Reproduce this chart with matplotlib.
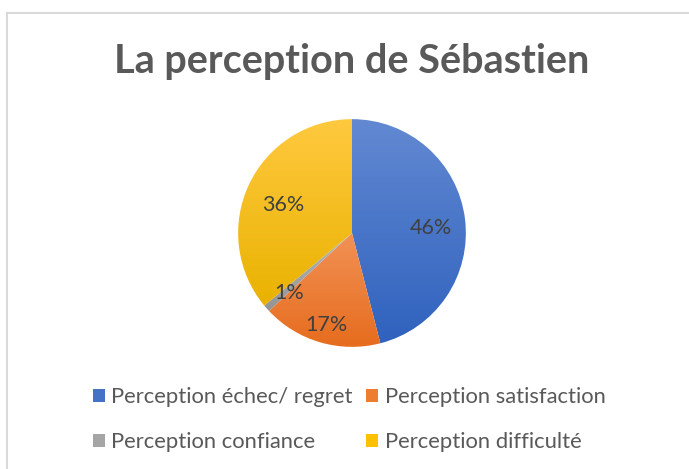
import numpy as np
import matplotlib
matplotlib.use("Agg")
import matplotlib.pyplot as plt
from matplotlib.patches import Patch
from matplotlib.lines import Line2D
from matplotlib.colors import LinearSegmentedColormap

# data
categories = ["Perception échec/ regret", "Perception satisfaction",
              "Perception confiance", "Perception difficulté"]
values = [46, 17, 1, 36]

# style: (light top, dark bottom) for the gradient of each slice
base_colors = ["#4472C4", "#ED7D31", "#A5A5A5", "#FFC000"]
grad_colors = [("#6389D2", "#2F62BE"), ("#F29257", "#E66C1D"),
               ("#B8B8B8", "#939393"), ("#FFC940", "#E9B200")]
label_dist = [0.70, 0.80, 0.74, 0.67]
text_grey = "#595959"

plt.rcParams['font.family'] = ['Lato', 'DejaVu Sans']

fig = plt.figure(figsize=(6.89, 4.69), dpi=100)
fig.patch.set_facecolor("white")

# frame lines (top and left border of the chart area)
fig.add_artist(Line2D([7 / 689, 1], [1 - 13.5 / 469] * 2, color="#d9d9d9", lw=1.5))
fig.add_artist(Line2D([7 / 689] * 2, [0, 1 - 13.5 / 469], color="#d9d9d9", lw=1.5))

# title
fig.text(352 / 689, 1 - 62 / 469, "La perception de Sébastien",
         ha="center", va="center", fontsize=28.5, fontweight="bold", color=text_grey)

# pie
ax = fig.add_axes([237 / 689, 1 - 348 / 469, 230 / 689, 230 / 469])
wedges, texts, autotexts = ax.pie(values, colors=base_colors, startangle=90,
                                  counterclock=False, autopct='%1.0f%%',
                                  pctdistance=0.72,
                                  textprops=dict(color="#404040", fontsize=15.5),
                                  wedgeprops=dict(linewidth=0))

# vertical gradient fill per slice
grad = np.linspace(0, 1, 256).reshape(-1, 1)
for w, (c_top, c_bot) in zip(wedges, grad_colors):
    ext = w.get_path().get_extents(w.get_patch_transform())
    cmap = LinearSegmentedColormap.from_list("g", [c_top, c_bot])
    im = ax.imshow(grad, cmap=cmap, aspect="auto", origin="upper",
                   extent=[ext.x0 - 0.01, ext.x1 + 0.01, ext.y0 - 0.01, ext.y1 + 0.01],
                   zorder=w.get_zorder())
    im.set_clip_path(w)
    w.set_facecolor("none")

# nudge the percentage labels radially, as Excel places them
for w, t, d in zip(wedges, autotexts, label_dist):
    ang = np.deg2rad((w.theta1 + w.theta2) / 2)
    t.set_position((d * np.cos(ang), d * np.sin(ang) - 0.04))
    t.set_zorder(5)
ax.set_xlim(-1.01, 1.01)
ax.set_ylim(-1.01, 1.01)
ax.set_aspect("equal")
ax.axis("off")

# legend, filled row by row like Excel
order = [0, 2, 1, 3]
handles = [Patch(facecolor=base_colors[i], edgecolor="none") for i in order]
labels = [categories[i] for i in order]
fig.legend(handles, labels, loc="center", ncol=2,
           bbox_to_anchor=(349 / 689, 1 - 419.5 / 469),
           frameon=False, fontsize=15.8, labelcolor=text_grey,
           handlelength=0.55, handleheight=0.55, handletextpad=0.3,
           columnspacing=0.6, labelspacing=1.15)

fig.savefig("out.png", dpi=100, facecolor="white")
